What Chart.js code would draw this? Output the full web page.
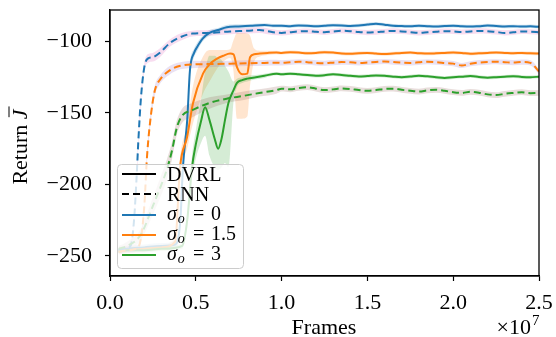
<!DOCTYPE html>
<html>
<head>
<meta charset="utf-8">
<script src="https://cdn.jsdelivr.net/npm/chart.js@4.4.0/dist/chart.umd.min.js"></script>
<style>
  html, body { margin: 0; padding: 0; background: #fff; }
  #wrap { width: 556px; height: 337px; }
</style>
</head>
<body>
<div id="wrap"><canvas id="chart" width="556" height="337"></canvas></div>
<script>
// ---------------------------------------------------------------
//  data (x in units of 1e7 frames, y = return)
// ---------------------------------------------------------------
const X_TICKS = [0.0, 0.5, 1.0, 1.5, 2.0, 2.5];
const Y_TICKS = [-250, -200, -150, -100];

// shared x grid of the flat part
const TAIL_X = [1.00, 1.05, 1.10, 1.15, 1.20, 1.25, 1.30, 1.35, 1.40, 1.45, 1.50,
  1.55, 1.60, 1.65, 1.70, 1.75, 1.80, 1.85, 1.90, 1.95, 2.00,
  2.05, 2.10, 2.15, 2.20, 2.25, 2.30, 2.35, 2.40, 2.45, 2.50];

// DVRL, sigma_o = 0
const DVRL0_X = [0.05, 0.1, 0.2, 0.3, 0.38, 0.41, 0.425, 0.45, 0.466, 0.49, 0.507, 0.54, 0.58, 0.63, 0.68, 0.75, 0.82, 0.9, 0.95];
const DVRL0_Y = [-246, -245, -244, -243, -242, -225, -188, -155, -120, -108, -104, -98, -94, -92, -90, -89.5, -89, -88.5, -89];
const DVRL0_BAND = [2, 2, 2, 2, 3, 4, 5, 5, 4, 3, 3, 2, 2, 1.5, 1.5, 1.5, 1.2, 1.2, 1.2];
const DVRL0_TAIL = [-89.0, -89.3, -88.8, -89.0, -89.4, -89.0, -88.6, -88.8, -89.2, -88.9, -88.2,
  -87.6, -88.3, -89.0, -89.2, -89.4, -89.0, -89.3, -89.5, -89.2, -89.0,
  -89.4, -89.6, -89.3, -88.9, -89.2, -89.5, -89.3, -89.6, -89.4, -89.8];

// RNN, sigma_o = 0
const RNN0_X = [0.05, 0.08, 0.12, 0.14, 0.155, 0.165, 0.18, 0.2, 0.22, 0.25, 0.29, 0.35, 0.41, 0.48, 0.58, 0.7, 0.8, 0.87, 0.95];
const RNN0_Y = [-246, -245, -243, -225, -195, -170, -140, -118, -112, -111, -108, -101, -97, -94.5, -94, -93, -92.5, -92, -93.5];
const RNN0_BAND = [2, 2, 2, 3, 4, 4, 4, 3, 3, 3, 3, 2.5, 2.5, 2, 2, 2, 2, 2, 2];
const RNN0_TAIL = [-94.0, -93.5, -93.0, -92.8, -93.2, -93.6, -93.0, -92.5, -92.8, -93.4, -93.8,
  -93.5, -93.0, -92.6, -93.0, -93.5, -94.0, -93.6, -93.2, -92.8, -93.0,
  -93.4, -93.0, -92.6, -92.8, -93.4, -94.0, -93.6, -93.0, -93.2, -93.5];

// DVRL, sigma_o = 1.5
const DVRL15_X = [0.05, 0.1, 0.2, 0.3, 0.38, 0.408, 0.449, 0.484, 0.542, 0.58, 0.624, 0.66, 0.70, 0.72, 0.74, 0.77, 0.80, 0.816, 0.84, 0.874, 0.92, 0.97];
const DVRL15_Y = [-247, -246, -245, -244, -240, -188, -167, -143, -122.5, -116, -112, -110, -108.5, -109, -118, -123, -122.5, -111, -109, -108.5, -108, -107.7];
const DVRL15_UP = [2, 2, 2, 2, 3, 5, 8, 12, 12, 10, 6, 4, 3, 10, 24, 29, 28, 15, 4, 2, 1.5, 1.2];
const DVRL15_DN = [2, 2, 2, 2, 3, 5, 8, 14, 14, 12, 7, 4, 3, 12, 36, 31, 30, 20, 5, 2, 1.5, 1.2];
const DVRL15_TAIL = [-108.0, -107.6, -107.8, -108.2, -108.0, -107.5, -107.8, -108.4, -108.6, -108.2, -108.0,
  -108.5, -108.8, -108.4, -108.0, -107.8, -108.2, -108.5, -108.3, -108.0, -107.7,
  -108.0, -108.6, -108.3, -108.0, -107.8, -108.0, -108.2, -108.0, -108.3, -108.5];

// RNN, sigma_o = 1.5
const RNN15_X = [0.05, 0.1, 0.15, 0.18, 0.2, 0.216, 0.24, 0.262, 0.29, 0.35, 0.41, 0.5, 0.6, 0.7, 0.8, 0.9, 0.97];
const RNN15_Y = [-247, -246, -245, -238, -215, -180, -150, -134, -127, -120, -117, -116, -115.8, -115.5, -115.2, -115, -114.8];
const RNN15_BAND = [2, 2, 2, 3, 4, 4, 4, 3.5, 3, 3, 2.5, 2.5, 2, 2, 2, 2, 2];
const RNN15_TAIL = [-115.0, -114.6, -114.2, -114.5, -115.0, -115.2, -114.8, -114.4, -114.6, -115.0, -114.7,
  -114.3, -114.0, -114.4, -114.8, -115.0, -114.6, -114.2, -114.5, -115.0, -115.5,
  -116.8, -115.6, -114.8, -114.4, -114.2, -114.5, -114.8, -114.4, -115.0, -121.0];

// DVRL, sigma_o = 3
const DVRL3_X = [0.05, 0.1, 0.2, 0.3, 0.42, 0.45, 0.478, 0.5, 0.53, 0.554, 0.58, 0.61, 0.63, 0.65, 0.67, 0.69, 0.72, 0.74, 0.77, 0.8, 0.85, 0.9, 0.97];
const DVRL3_Y = [-247, -246, -246, -245, -243, -225, -188, -172, -156, -146, -155, -168, -175, -168, -155, -143, -134, -129, -127, -126, -125, -124, -122.5];
const DVRL3_UP = [1.5, 1.5, 1.5, 1.5, 2, 5, 8, 10, 15, 25, 45, 58, 63, 55, 38, 22, 6, 3, 2, 2, 1.5, 1.5, 1.2];
const DVRL3_DN = [1.5, 1.5, 1.5, 1.5, 2, 5, 8, 10, 15, 20, 25, 20, 15, 20, 30, 45, 8, 3, 2, 2, 1.5, 1.5, 1.2];
const DVRL3_TAIL = [-123.0, -122.5, -123.0, -123.5, -124.0, -123.6, -123.0, -123.4, -124.0, -124.5, -124.2,
  -123.8, -124.0, -124.6, -125.0, -124.5, -124.0, -124.4, -125.0, -125.5, -125.0,
  -124.6, -124.2, -124.8, -125.3, -125.0, -124.6, -124.3, -124.8, -125.0, -124.6];

// RNN, sigma_o = 3
const RNN3_X = [0.05, 0.1, 0.18, 0.25, 0.3, 0.33, 0.36, 0.39, 0.42, 0.48, 0.58, 0.68, 0.78, 0.87, 0.97];
const RNN3_Y = [-245, -243, -235, -215, -200, -190, -177, -160, -152, -148, -143, -140, -138, -136, -134];
const RNN3_BAND = [2, 3, 4, 6, 7, 7, 6, 5, 5, 5, 4, 3, 3, 2.5, 2.5];
const RNN3_TAIL = [-133.0, -133.5, -132.5, -132.0, -133.0, -134.0, -133.5, -132.8, -133.2, -134.0, -134.5,
  -134.0, -133.2, -133.0, -133.8, -134.5, -135.0, -134.2, -133.8, -134.5, -135.5,
  -136.0, -135.2, -135.8, -137.0, -137.5, -136.6, -136.0, -135.5, -136.2, -136.0];

// ---------------------------------------------------------------
//  styles
// ---------------------------------------------------------------
const BLUE = '#1f77b4', ORANGE = '#ff7f0e', GREEN = '#2ca02c';
const DASH = [7, 4];
const SERIF = '"Liberation Serif", "DejaVu Serif", serif';

const series = [
  { x: RNN3_X, y: RNN3_Y, up: RNN3_BAND, dn: RNN3_BAND, tail: RNN3_TAIL, tailBand: 2.0, color: GREEN, band: 'rgba(140,86,75,0.2)', dash: DASH },
  { x: RNN15_X, y: RNN15_Y, up: RNN15_BAND, dn: RNN15_BAND, tail: RNN15_TAIL, tailBand: 1.8, color: ORANGE, band: 'rgba(148,103,189,0.2)', dash: DASH },
  { x: RNN0_X, y: RNN0_Y, up: RNN0_BAND, dn: RNN0_BAND, tail: RNN0_TAIL, tailBand: 1.8, color: BLUE, band: 'rgba(227,119,194,0.25)', dash: DASH },
  { x: DVRL3_X, y: DVRL3_Y, up: DVRL3_UP, dn: DVRL3_DN, tail: DVRL3_TAIL, tailBand: 1.2, color: GREEN, band: 'rgba(44,160,44,0.2)', dash: [] },
  { x: DVRL15_X, y: DVRL15_Y, up: DVRL15_UP, dn: DVRL15_DN, tail: DVRL15_TAIL, tailBand: 1.2, color: ORANGE, band: 'rgba(255,127,14,0.2)', dash: [] },
  { x: DVRL0_X, y: DVRL0_Y, up: DVRL0_BAND, dn: DVRL0_BAND, tail: DVRL0_TAIL, tailBand: 1.2, color: BLUE, band: 'rgba(31,119,180,0.2)', dash: [] },
];

function buildPoints(s, which) {
  const out = [];
  s.x.forEach((x, i) => {
    let v = s.y[i];
    if (which === 'hi') v += s.up[i];
    if (which === 'lo') v -= s.dn[i];
    out.push({ x: x, y: v });
  });
  TAIL_X.forEach((x, i) => {
    let v = s.tail[i];
    if (which === 'hi') v += s.tailBand;
    if (which === 'lo') v -= s.tailBand;
    out.push({ x: x, y: v });
  });
  return out;
}

const datasets = [];
series.forEach(s => {
  datasets.push({ data: buildPoints(s, 'lo'), borderWidth: 0, pointRadius: 0, fill: false, order: 2, cubicInterpolationMode: 'monotone' });
  datasets.push({ data: buildPoints(s, 'hi'), borderWidth: 0, pointRadius: 0, fill: '-1', backgroundColor: s.band, order: 2, cubicInterpolationMode: 'monotone' });
});
series.forEach(s => {
  datasets.push({
    data: buildPoints(s, 'mid'), borderColor: s.color, borderWidth: 2, borderDash: s.dash,
    pointRadius: 0, fill: false, order: 1, cubicInterpolationMode: 'monotone'
  });
});

// ---------------------------------------------------------------
//  frame, legend, axis titles
// ---------------------------------------------------------------
function drawSigma(ctx, x, y, rest) {
  ctx.textBaseline = 'alphabetic';
  ctx.textAlign = 'left';
  ctx.font = 'italic 20px ' + SERIF;
  ctx.fillText('\u03c3', x, y);
  x += ctx.measureText('\u03c3').width;
  ctx.font = 'italic 14px ' + SERIF;
  ctx.fillText('o', x + 1, y + 3);
  ctx.font = '20px ' + SERIF;
  ctx.fillText('=', 193, y);
  ctx.fillText(rest, 211, y);
}

const decor = {
  id: 'decor',
  afterDatasetsDraw(chart) {
    const ctx = chart.ctx;
    const a = chart.chartArea;
    ctx.save();
    // axes frame
    ctx.strokeStyle = '#000';
    ctx.lineWidth = 1.3;
    ctx.strokeRect(a.left, a.top, a.right - a.left, a.bottom - a.top);

    // legend box
    const bx = 117.5, by = 164.5, bw = 126, bh = 104;
    ctx.beginPath();
    ctx.roundRect(bx, by, bw, bh, 4);
    ctx.fillStyle = 'rgba(255,255,255,0.8)';
    ctx.fill();
    ctx.strokeStyle = '#cccccc';
    ctx.lineWidth = 1;
    ctx.stroke();

    const rows = [
      { y: 174, color: '#000', dash: [], label: 'DVRL' },
      { y: 194, color: '#000', dash: DASH, label: 'RNN' },
      { y: 215, color: BLUE, dash: [], sigma: '0' },
      { y: 235, color: ORANGE, dash: [], sigma: '1.5' },
      { y: 255, color: GREEN, dash: [], sigma: '3' },
    ];
    rows.forEach(r => {
      ctx.beginPath();
      ctx.setLineDash(r.dash);
      ctx.strokeStyle = r.color;
      ctx.lineWidth = 2;
      ctx.moveTo(122, r.y);
      ctx.lineTo(156, r.y);
      ctx.stroke();
      ctx.setLineDash([]);
      ctx.fillStyle = '#000';
      if (r.label) {
        ctx.font = '20px ' + SERIF;
        ctx.textBaseline = 'alphabetic';
        ctx.textAlign = 'left';
        ctx.fillText(r.label, 167, r.y + 7);
      } else {
        drawSigma(ctx, 167, r.y + 5, r.sigma);
      }
    });

    // x title and multiplier
    ctx.fillStyle = '#000';
    ctx.font = '22px ' + SERIF;
    ctx.textAlign = 'center';
    ctx.textBaseline = 'alphabetic';
    ctx.fillText('Frames', 324, 334);
    ctx.textAlign = 'left';
    const mw = ctx.measureText('\u00d710').width;
    ctx.fillText('\u00d710', 531 - mw, 334);
    ctx.font = '15px ' + SERIF;
    ctx.fillText('7', 532, 325);

    // y title with J-bar
    ctx.translate(27, 147);
    ctx.rotate(-Math.PI / 2);
    ctx.font = '22px ' + SERIF;
    const w1 = ctx.measureText('Return ').width;
    ctx.font = 'italic 22px ' + SERIF;
    const w2 = ctx.measureText('J').width;
    const x0 = -(w1 + w2) / 2;
    ctx.font = '22px ' + SERIF;
    ctx.fillText('Return ', x0, 0);
    ctx.font = 'italic 22px ' + SERIF;
    ctx.fillText('J', x0 + w1, 0);
    ctx.beginPath();
    ctx.lineWidth = 1;
    ctx.strokeStyle = '#000';
    ctx.moveTo(x0 + w1 + 2, -18);
    ctx.lineTo(x0 + w1 + w2 + 3, -18);
    ctx.stroke();
    ctx.restore();
  }
};

// ---------------------------------------------------------------
//  chart
// ---------------------------------------------------------------
new Chart(document.getElementById('chart'), {
  type: 'line',
  data: { datasets: datasets },
  options: {
    responsive: false,
    animation: false,
    layout: { padding: { top: 10, right: 17, left: 0, bottom: 0 } },
    plugins: { legend: { display: false }, tooltip: { enabled: false } },
    scales: {
      x: {
        type: 'linear', min: 0, max: 2.5,
        afterBuildTicks: s => { s.ticks = X_TICKS.map(v => ({ value: v })); },
        afterFit: s => { s.height = 61; s.paddingLeft = 0; s.paddingRight = 0; },
        ticks: { color: '#000', font: { family: SERIF, size: 22 }, padding: 9, maxRotation: 0, callback: v => v.toFixed(1) },
        grid: { drawOnChartArea: false, drawTicks: true, tickLength: 5, tickWidth: 1.2, tickColor: '#000' },
        border: { display: true, color: '#000', width: 1.3 }
      },
      y: {
        type: 'linear', min: -264, max: -78,
        afterBuildTicks: s => { s.ticks = Y_TICKS.map(v => ({ value: v })); },
        afterFit: s => { s.width = 110; s.paddingTop = 0; s.paddingBottom = 0; },
        ticks: { color: '#000', font: { family: SERIF, size: 22 }, padding: 13, callback: v => String(v).replace('-', '\u2212') },
        grid: { drawOnChartArea: false, drawTicks: true, tickLength: 5, tickWidth: 1.2, tickColor: '#000' },
        border: { display: true, color: '#000', width: 1.3 }
      }
    }
  },
  plugins: [decor]
});
</script>
</body>
</html>
